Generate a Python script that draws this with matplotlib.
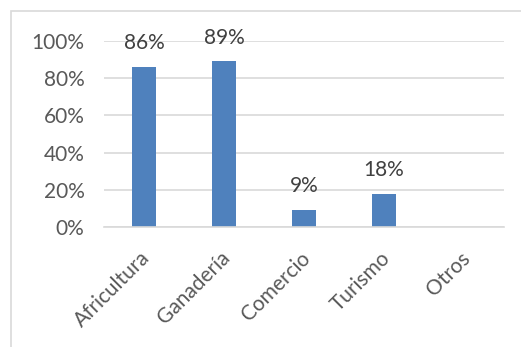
import matplotlib.pyplot as plt
import matplotlib.transforms as mtransforms
from matplotlib.patches import Rectangle
from matplotlib.ticker import PercentFormatter

# data
sectors = ["Africultura", "Ganadería", "Comercio", "Turismo", "Otros"]
shares = [86, 89, 9, 18, 0]
value_labels = ["86%", "89%", "9%", "18%", ""]

bar_color = "#4f81bd"
grid_color = "#d9d9d9"
text_color = "#595959"

plt.rcParams["font.family"] = ["Lato", "DejaVu Sans"]

fig = plt.figure(figsize=(5.21, 3.47), dpi=100)
ax = fig.add_axes([104 / 521, 1 - 227 / 347, 400 / 521, 186 / 347])

# chart border (cropped on right/bottom)
fig.patches.append(Rectangle((11 / 521, -0.1), 1.2, 1 - 11 / 347 + 0.1,
                             transform=fig.transFigure, fill=False,
                             edgecolor=grid_color, linewidth=1.2))

x = range(len(sectors))
bars = ax.bar(x, shares, width=0.3, color=bar_color, zorder=3)
ax.bar_label(bars, labels=value_labels, padding=10, fontsize=15, color="#404040")

ax.set_xlim(-0.5, len(sectors) - 0.5)
ax.set_ylim(0, 100)
ax.set_yticks(range(0, 101, 20))
ax.yaxis.set_major_formatter(PercentFormatter(decimals=0))
ax.grid(axis="y", color=grid_color, linewidth=1.2, zorder=0)

ax.set_xticks(list(x))
ax.set_xticklabels(sectors, rotation=45, ha="right", rotation_mode="anchor")
ax.tick_params(axis="both", length=0, labelsize=15, labelcolor=text_color)
ax.tick_params(axis="x", pad=15)
ax.tick_params(axis="y", pad=14)

# nudge rotated labels slightly left
shift = mtransforms.ScaledTranslation(-4 / 100, 0, fig.dpi_scale_trans)
for lbl in ax.get_xticklabels():
    lbl.set_transform(lbl.get_transform() + shift)

for s in ["top", "right", "left"]:
    ax.spines[s].set_visible(False)
ax.spines["bottom"].set_color(grid_color)
ax.spines["bottom"].set_linewidth(1.2)
ax.spines["bottom"].set_zorder(4)

fig.savefig("out.png", dpi=100)
